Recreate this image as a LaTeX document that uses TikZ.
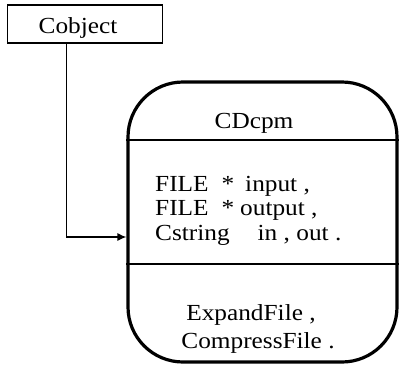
\documentclass[tikz,border=0pt]{standalone}
\usepackage{fontspec}
\setmainfont{Liberation Serif}[FakeStretch=1.1]
\usetikzlibrary{arrows.meta}

\begin{document}
\begin{tikzpicture}[x=1pt,y=-1pt,
  every node/.style={font=\fontsize{23}{28}\selectfont,inner sep=0pt},
  classbox/.style={draw,line width=3.2pt,rounded corners=55pt,minimum width=269pt,minimum height=280pt},
  basebox/.style={draw,line width=1.3pt,minimum width=155pt,minimum height=38pt}]
\useasboundingbox (0,0) rectangle (401,370);
\def\sep{1.3pt}

% base class
\node[basebox] (cobject) at (85,24) {};
\node[anchor=base] (cobjname) at (78,33) {Cobject};

% derived class with its three parts
\node[classbox] (cdcpm) at (262.5,222) {};
\node[anchor=base] (name) at (254,128) {CDcpm};
\draw[line width=\sep] (cdcpm.west |- 0,140) -- (cdcpm.east |- 0,140);
\draw[line width=\sep] (cdcpm.west |- 0,264) -- (cdcpm.east |- 0,264);

\node[anchor=base west] (attr1) at (155,191) {FILE\hspace{13pt}*\hspace{11pt}input ,};
\node[anchor=base west] (attr2) at (155,215) {FILE\hspace{13pt}*\hspace{6pt}output ,};
\node[anchor=base west] (attr3) at (155,240) {Cstring\hspace{28pt}in , out .};

\node[anchor=base] (op1) at (251,320) {ExpandFile ,};
\node[anchor=base] (op2) at (258,348) {CompressFile .};

% inheritance link
\coordinate (drop) at ([xshift=60pt]cobject.south west);
\draw[line width=1.2pt,-{Latex[length=9pt,width=8pt]}] (drop) |- (cdcpm.west |- 0,237);
\end{tikzpicture}
\end{document}
